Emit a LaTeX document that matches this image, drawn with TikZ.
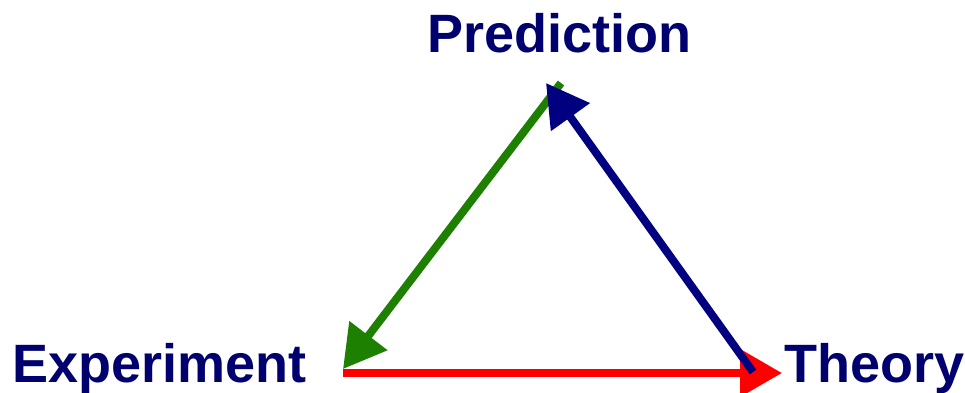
\documentclass[tikz,border=0pt]{standalone}
\usepackage{fontspec}
\setmainfont{Liberation Sans}
\usetikzlibrary{arrows.meta}
\definecolor{txtnavy}{RGB}{0,0,110}
\definecolor{arrnavy}{RGB}{0,0,128}
\definecolor{arrgreen}{RGB}{30,128,0}
\definecolor{arrred}{RGB}{255,0,0}
\tikzset{
  lbl/.style={text=txtnavy, font=\bfseries\fontsize{54}{54}\selectfont, inner sep=0pt, anchor=base west},
  bigarrow/.style={line width=8pt, -{Triangle[length=42pt,width=46pt]}}
}
\begin{document}
\begin{tikzpicture}[x=1pt,y=-1pt]
\useasboundingbox (0,0) rectangle (965,392);
\node[lbl] (pred) at (427,52) {Prediction};
\node[lbl] (exp) at (12,382) {Experiment};
\node[lbl] (theo) at (784,382) {Theory};
\coordinate (gs) at (561,83);
\coordinate (ge) at (343,369);
\coordinate (ns) at (753,372);
\coordinate (ne) at (546,83);
\coordinate (rs) at (343,373);
\coordinate (re) at (782,373);
\draw[bigarrow, arrgreen] (gs) -- (ge);
\draw[bigarrow, arrred] (rs) -- (re);
\draw[bigarrow, arrnavy] (ns) -- (ne);
\end{tikzpicture}
\end{document}
